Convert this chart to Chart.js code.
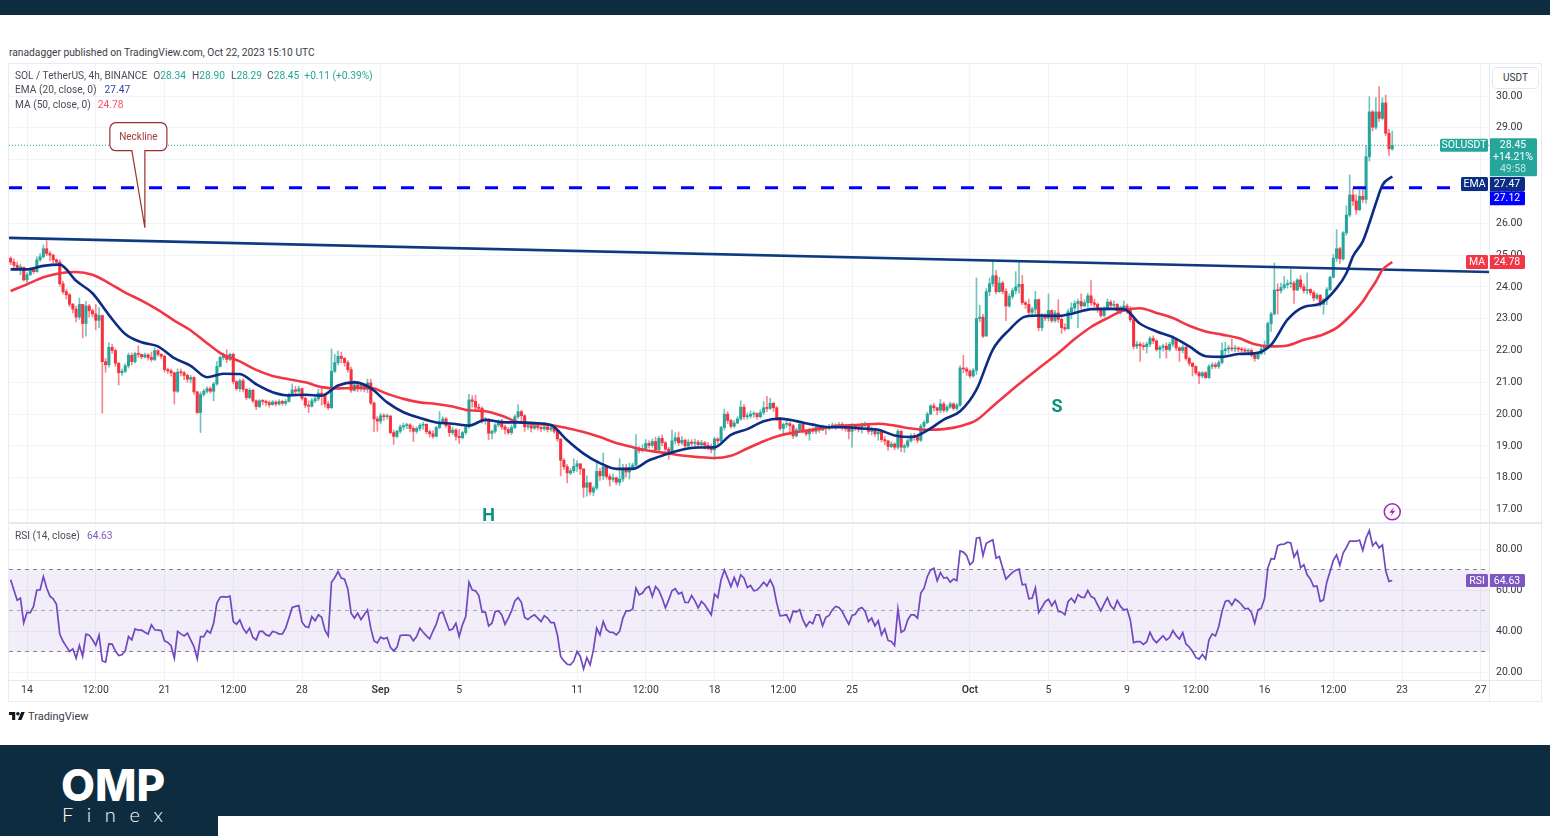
<!DOCTYPE html>
<html>
<head>
<meta charset="utf-8">
<title>SOL / TetherUS</title>
<script src="https://cdn.jsdelivr.net/npm/chart.js@4/dist/chart.umd.js"></script>
<style>
  html, body { margin: 0; padding: 0; background: #fff; }
  body { position: relative; width: 1550px; height: 836px; overflow: hidden; font-family: Roboto, sans-serif; }
  .abs { position: absolute; white-space: nowrap; }
  canvas { position: absolute; left: 9px; }
  .lg { font-size: 10.2px; line-height: 14px; color: #4a4d57; }
  .up { color: #26a69a; }
  .gap { margin-left: 1px; }
</style>
</head>
<body>
<div class="abs" style="left:0;top:0;width:1550px;height:15px;background:#0e2c40"></div>
<div class="abs" style="left:9px;top:46px;font-size:10.25px;line-height:13px;color:#3a3d46">ranadagger published on TradingView.com, Oct 22, 2023 15:10 UTC</div>

<div class="abs" style="left:8px;top:63px;width:1532px;height:637px;border:1px solid #e9ebf1"></div>
<canvas id="price" width="1532" height="458" style="top:64px"></canvas>
<canvas id="rsi" width="1532" height="176" style="top:524px"></canvas>
<div class="abs" style="left:9px;top:522px;width:1532px;height:2px;background:#e6e8ef"></div>
<div class="abs" style="left:9px;top:680px;width:1532px;height:1px;background:#e6e8ef"></div>
<div class="abs" style="left:1489px;top:64px;width:1px;height:636px;background:#e6e8ef"></div>

<div class="abs lg" style="left:15px;top:69px">SOL / TetherUS, 4h, BINANCE &nbsp;<span class="gap">O</span><span class="up">28.34</span> &nbsp;<span class="gap">H</span><span class="up">28.90</span> &nbsp;<span class="gap">L</span><span class="up">28.29</span> &nbsp;C<span class="up">28.45</span> &nbsp;<span class="up">+0.11 (+0.39%)</span></div>
<div class="abs lg" style="left:15px;top:83px">EMA (20, close, 0) &nbsp;<span class="up gap" style="color:#2a3fae;margin-left:3px">27.47</span></div>
<div class="abs lg" style="left:15px;top:98px">MA (50, close, 0) &nbsp;<span style="color:#f7525f;margin-left:2px">24.78</span></div>
<div class="abs lg" style="left:15px;top:529px">RSI (14, close) &nbsp;<span style="color:#7e57c2;margin-left:2px">64.63</span></div>
<div class="abs" style="left:1492px;top:67px;width:45px;height:20px;border:1px solid #e6e8ef;border-radius:4px;font-size:10px;line-height:20px;text-align:center;color:#33363f;background:#fff">USDT</div>

<svg class="abs" style="left:9px;top:711px" width="16" height="10" viewBox="0 0 36 22"><path fill="#131722" d="M14 20H7V9H0V2h14v18zM28 20h-8l7.5-18h8L28 20z"/><circle cx="20" cy="6" r="4" fill="#131722"/></svg>
<div class="abs" style="left:28px;top:710px;font-size:11px;line-height:14px;color:#3a3d46">TradingView</div>

<div class="abs" style="left:0;top:745px;width:1550px;height:91px;background:#0e2c40"></div>
<div class="abs" style="left:218px;top:816px;width:1332px;height:20px;background:#fff"></div>
<div class="abs" style="left:61px;top:760px;font-family:Inter,sans-serif;font-weight:800;font-size:44px;line-height:50px;color:#fff">OMP</div>
<div class="abs" style="left:62px;top:802px;font-family:Lato,sans-serif;font-weight:300;font-size:20px;line-height:24px;letter-spacing:13.6px;color:#fff">Finex</div>

<script>
// 4h candles, index 0 = Aug 14 00:00
const firstCandle = -5
const firstOpen = 24.90
const closes = [
  24.78,24.68,24.60,24.62,24.22,24.38,24.55,24.48,24.85,24.95,
  25.20,25.05,25.00,24.85,24.78,24.10,23.85,23.75,23.45,23.30,
  23.05,23.45,22.85,23.40,23.25,23.15,22.95,23.10,21.65,21.55,
  22.10,22.00,21.60,21.30,21.35,21.52,21.85,21.65,21.90,21.88,
  21.80,21.86,21.78,21.72,22.00,21.88,21.82,21.40,21.36,21.30,
  20.72,21.32,21.30,21.22,21.10,21.15,20.70,20.05,20.62,20.72,
  20.80,20.72,20.95,21.50,21.78,21.85,21.72,21.88,21.02,20.80,
  21.05,20.78,20.52,20.75,20.42,20.24,20.42,20.40,20.36,20.30,
  20.38,20.32,20.40,20.34,20.40,20.60,20.76,20.72,20.80,20.50,
  20.28,20.25,20.42,20.48,20.66,20.58,20.32,20.20,21.35,21.62,
  21.82,21.75,21.62,21.40,20.75,20.92,20.82,20.90,20.78,20.98,
  20.35,19.85,19.78,19.95,19.92,19.94,19.42,19.30,19.46,19.60,
  19.64,19.66,19.55,19.46,19.55,19.65,19.68,19.45,19.38,19.30,
  19.58,19.75,19.85,19.64,19.42,19.50,19.30,19.26,19.42,19.60,
  20.45,20.40,20.22,20.18,19.80,19.84,19.40,19.46,19.66,19.78,
  19.60,19.52,19.42,19.58,19.92,20.08,19.95,19.60,19.64,19.56,
  19.64,19.58,19.54,19.60,19.52,19.57,19.46,19.22,18.55,18.35,
  18.15,18.22,18.36,18.44,18.28,17.70,17.84,17.55,17.68,18.20,
  18.06,18.34,18.04,17.95,18.00,17.86,17.96,18.30,18.18,18.32,
  18.40,18.90,18.85,18.92,19.08,19.02,19.14,18.88,19.24,19.10,
  18.90,18.80,19.16,19.26,19.10,19.18,19.00,19.12,19.08,19.12,
  19.04,19.10,19.02,18.96,18.88,19.22,19.16,19.58,20.00,19.80,
  19.62,19.72,19.85,20.22,19.92,19.94,20.00,20.02,19.92,20.05,
  20.20,20.18,20.34,20.20,19.88,19.55,19.68,19.70,19.64,19.32,
  19.50,19.68,19.48,19.38,19.52,19.46,19.58,19.50,19.58,19.56,
  19.60,19.66,19.62,19.68,19.62,19.54,19.46,19.62,19.60,19.52,
  19.65,19.68,19.46,19.55,19.38,19.44,19.20,19.16,18.98,19.06,
  18.96,19.46,18.96,19.00,19.16,19.32,19.28,19.18,19.62,19.74,
  20.00,20.26,20.20,20.12,20.32,20.12,20.22,20.32,20.18,20.28,
  21.45,21.42,21.35,21.20,21.38,23.00,23.05,22.45,23.85,24.10,
  24.35,23.85,24.12,23.86,23.40,23.70,23.88,24.00,24.08,23.50,
  23.45,23.20,23.30,23.60,22.72,23.10,23.02,23.26,22.94,23.18,
  22.98,22.72,22.68,23.22,23.34,23.48,23.54,23.40,23.50,23.72,
  23.50,23.45,23.30,23.10,23.30,23.52,23.42,23.45,23.25,23.35,
  23.40,23.30,22.97,22.13,22.20,22.15,22.12,22.20,22.38,22.30,
  22.03,22.10,22.14,22.03,22.20,22.38,22.08,22.00,22.10,21.75,
  21.60,21.50,21.30,21.20,21.30,21.15,21.50,21.55,21.50,21.62,
  22.00,22.05,22.08,22.05,22.08,22.04,22.02,21.98,22.00,21.85,
  21.75,21.90,22.05,22.17,22.85,23.15,23.90,23.88,23.98,24.07,
  24.10,24.12,23.90,24.22,24.00,23.88,23.92,23.82,23.65,23.74,
  23.45,23.60,23.92,24.30,24.90,25.20,24.88,25.70,26.26,26.89,
  26.70,26.42,26.85,26.75,28.09,29.50,29.02,29.50,29.30,29.78,
  28.83,28.34,28.45
]
const highs = [
  24.95,24.88,24.78,24.72,24.62,24.45,24.60,24.60,24.95,25.05,
  25.32,25.45,25.12,25.02,24.88,24.85,24.18,23.92,23.80,23.48,
  23.40,23.65,23.42,23.55,23.45,23.30,23.45,23.35,23.12,21.75,
  22.25,22.20,22.05,21.62,21.42,21.58,21.92,21.92,21.95,22.15,
  21.88,21.92,21.90,21.95,22.08,22.02,21.90,21.85,21.45,21.42,
  21.32,21.42,21.42,21.35,21.25,21.22,21.18,20.72,20.70,20.78,
  20.86,20.86,21.00,21.65,21.82,21.92,22.02,21.92,21.92,21.05,
  21.10,21.12,20.80,20.82,20.78,20.45,20.46,20.46,20.44,20.42,
  20.44,20.42,20.46,20.44,20.46,20.66,20.95,20.88,20.88,20.82,
  20.55,20.42,20.50,20.58,20.78,20.82,20.62,20.40,22.05,21.88,
  21.98,21.95,21.78,21.68,21.48,21.05,20.98,21.00,20.95,21.10,
  21.10,20.38,19.92,20.02,20.02,20.00,19.96,19.50,19.50,19.66,
  19.72,19.72,19.70,19.62,19.60,19.70,19.74,19.70,19.50,19.48,
  19.62,20.08,19.92,19.90,19.68,19.60,19.55,19.52,19.46,19.66,
  20.62,20.58,20.60,20.32,20.24,19.90,19.86,19.50,19.70,19.82,
  19.84,19.66,19.58,19.66,19.98,20.30,20.12,19.98,19.72,19.66,
  19.68,19.68,19.62,19.66,19.64,19.64,19.60,19.50,19.22,18.60,
  18.42,18.30,18.60,18.54,18.44,18.28,18.06,17.86,17.74,18.52,
  18.30,18.78,18.38,18.12,18.12,18.02,18.60,18.42,18.42,18.46,
  18.46,19.36,18.98,19.04,19.20,19.16,19.22,19.28,19.30,19.34,
  19.14,18.96,19.50,19.42,19.44,19.30,19.22,19.20,19.20,19.22,
  19.18,19.18,19.14,19.12,19.06,19.28,19.26,19.62,20.16,20.08,
  19.84,19.80,19.92,20.42,20.30,20.04,20.10,20.08,20.04,20.14,
  20.40,20.56,20.50,20.38,20.24,19.90,19.72,19.78,19.74,19.68,
  19.56,19.74,19.70,19.52,19.56,19.58,19.64,19.62,19.66,19.62,
  19.68,19.72,19.70,19.74,19.74,19.66,19.60,19.70,19.68,19.68,
  19.72,19.76,19.70,19.60,19.56,19.50,19.46,19.30,19.18,19.14,
  19.10,19.52,19.50,19.06,19.22,19.38,19.40,19.34,19.68,19.80,
  20.06,20.30,20.34,20.22,20.46,20.38,20.28,20.38,20.36,20.34,
  21.52,21.85,21.48,21.40,21.44,24.28,23.42,23.14,23.95,24.28,
  24.80,24.52,24.30,24.18,23.95,23.78,23.96,24.48,24.80,24.36,
  23.55,23.62,23.36,23.86,23.62,23.16,23.16,23.78,23.28,23.26,
  23.60,23.04,22.84,23.30,23.50,23.56,23.62,23.78,23.60,23.80,
  24.20,23.62,23.50,23.35,23.38,23.62,23.58,23.56,23.48,23.40,
  23.56,23.46,23.38,23.02,22.28,22.26,22.24,22.26,22.44,22.46,
  22.34,22.16,22.20,22.24,22.26,22.46,22.40,22.12,22.18,22.14,
  21.80,21.62,21.52,21.34,21.34,21.34,21.56,21.62,21.62,21.68,
  22.24,22.26,22.16,22.36,22.16,22.12,22.10,22.08,22.06,22.06,
  21.92,21.94,22.10,22.30,22.90,23.20,24.75,24.10,24.12,24.33,
  24.22,24.55,24.18,24.26,24.36,24.10,24.44,23.94,23.88,23.80,
  23.76,23.64,23.98,24.34,25.02,25.80,25.24,25.74,26.55,27.52,
  27.10,26.90,27.05,27.10,28.45,29.98,29.55,29.95,30.30,29.95,
  30.03,28.95,28.90
]
const lows = [
  24.70,24.60,24.52,24.38,24.18,24.08,24.36,24.42,24.46,24.80,
  24.90,24.98,24.82,24.75,24.68,24.02,23.78,23.62,23.38,23.18,
  22.90,22.98,22.40,22.45,23.05,23.05,22.65,22.72,20.03,21.32,
  21.48,21.92,21.50,20.92,21.22,21.30,21.45,21.55,21.60,21.78,
  21.74,21.76,21.70,21.65,21.68,21.82,21.74,21.32,21.28,21.20,
  20.32,20.68,21.20,21.08,21.00,20.98,20.62,20.02,19.42,20.56,
  20.66,20.66,20.42,20.90,21.48,21.70,21.62,21.68,20.95,20.75,
  20.72,20.70,20.45,20.48,20.36,20.14,20.20,20.30,20.26,20.22,
  20.28,20.26,20.28,20.28,20.28,20.38,20.58,20.64,20.66,20.44,
  20.20,20.05,20.22,20.36,20.42,20.28,20.22,20.14,20.18,21.30,
  21.55,21.60,21.50,21.32,20.68,20.72,20.70,20.72,20.70,20.68,
  20.30,19.45,19.46,19.70,19.80,19.84,19.38,19.05,19.25,19.40,
  19.50,19.54,19.44,19.14,19.40,19.48,19.52,19.38,19.28,19.24,
  19.28,19.54,19.70,19.58,19.30,19.36,19.18,19.08,19.22,19.36,
  19.55,20.22,20.12,20.10,19.72,19.68,19.20,19.22,19.40,19.60,
  19.52,19.38,19.36,19.36,19.54,19.86,19.78,19.46,19.52,19.44,
  19.52,19.50,19.46,19.48,19.44,19.46,19.40,19.14,18.06,18.26,
  17.84,18.10,18.16,18.20,18.10,17.38,17.42,17.46,17.44,17.62,
  17.92,17.94,17.96,17.74,17.88,17.78,17.76,17.88,18.02,17.96,
  18.26,18.36,18.78,18.80,18.90,18.94,18.96,18.82,18.84,19.00,
  18.82,18.58,18.74,19.06,19.02,19.04,18.90,18.96,19.00,18.96,
  18.96,18.96,18.90,18.88,18.78,18.58,19.06,19.12,19.50,19.70,
  19.56,19.58,19.70,19.80,19.84,19.84,19.88,19.90,19.84,19.88,
  19.98,20.08,20.14,20.08,19.80,19.50,19.36,19.58,19.44,19.24,
  19.28,19.46,19.40,19.32,19.18,19.40,19.38,19.42,19.48,19.36,
  19.50,19.56,19.52,19.58,19.50,19.46,19.22,18.96,19.48,19.44,
  19.40,19.58,19.38,19.34,19.30,19.18,19.12,19.04,18.86,18.94,
  18.88,18.90,18.82,18.80,18.94,19.12,19.18,19.10,19.14,19.52,
  19.70,19.98,20.10,19.98,20.04,20.06,20.06,20.18,20.12,20.12,
  20.24,21.30,21.22,21.14,21.16,21.25,22.90,22.40,22.62,23.72,
  24.02,23.78,23.82,23.78,22.94,23.36,23.62,23.78,23.80,23.44,
  23.32,23.12,23.06,23.12,22.62,22.62,22.94,22.92,22.88,22.88,
  22.88,22.54,22.62,22.68,23.00,23.20,22.72,23.30,23.38,23.36,
  23.42,23.36,23.20,23.04,23.06,23.26,23.34,23.30,23.18,23.14,
  23.22,23.16,22.90,22.05,22.06,21.66,22.02,21.92,22.12,22.22,
  21.98,21.76,21.98,21.76,21.98,22.12,22.00,21.66,21.92,21.70,
  21.52,21.20,21.24,20.96,21.14,21.12,21.12,21.42,21.44,21.44,
  21.58,21.80,21.92,21.98,21.96,21.96,21.94,21.90,21.86,21.80,
  21.66,21.72,21.86,21.88,22.12,22.60,23.12,23.14,23.80,23.92,
  23.96,23.98,23.48,23.88,23.94,23.80,23.78,23.74,23.56,23.60,
  23.38,23.14,23.44,23.88,24.28,24.80,24.74,24.84,25.62,26.20,
  26.56,26.28,26.40,26.65,26.62,27.95,28.90,28.95,29.20,29.25,
  28.75,28.13,28.29
]

const emaIdx = [-5,0,5,10,15,20,25,30,35,40,45,50,55,60,65,70,75,80,85,90,95,100,105,110,115,120,125,130,135,140,145,150,155,160,165,170,175,180,185,190,195,200,205,210,215,220,225,230,235,240,245,250,255,260,265,270,275,280,285,290,295,300,305,310,315,320,325,330,335,340,345,350,355,360,365,370,375,380,385,390,395,400,403,405,408,410,412,414,417]
const emaVals = [24.55,24.55,24.66,24.70,24.19,23.80,23.12,22.52,22.26,22.13,21.76,21.52,21.16,21.27,21.26,20.94,20.69,20.59,20.61,20.58,20.90,21.00,20.82,20.37,20.06,19.88,19.74,19.70,19.64,19.82,19.75,19.74,19.72,19.66,19.18,18.76,18.46,18.28,18.28,18.55,18.73,18.88,18.95,18.96,19.35,19.53,19.78,19.86,19.78,19.67,19.59,19.59,19.55,19.51,19.33,19.28,19.49,19.83,20.09,20.77,22.03,22.65,23.07,23.10,23.09,23.18,23.30,23.31,23.30,22.84,22.60,22.42,22.13,21.82,21.80,21.89,21.91,22.18,22.97,23.37,23.47,23.96,24.43,24.96,25.43,26.00,26.63,27.20,27.47]
const maIdx = [-5,0,5,10,15,20,25,30,35,40,45,50,55,60,65,70,75,80,85,90,95,100,105,110,115,120,125,130,135,140,145,150,155,160,165,170,175,180,185,190,195,200,205,210,215,220,225,230,235,240,245,250,255,260,265,270,275,280,285,290,295,300,305,310,315,320,325,330,335,340,345,350,355,360,365,370,375,380,385,390,395,400,405,408,410,412,414,417]
const maVals = [23.87,24.08,24.30,24.43,24.47,24.38,24.12,23.82,23.57,23.28,22.94,22.63,22.23,21.86,21.66,21.39,21.20,21.10,21.00,20.85,20.81,20.82,20.82,20.64,20.48,20.37,20.32,20.24,20.12,20.09,19.95,19.75,19.70,19.66,19.56,19.44,19.28,19.09,18.96,18.85,18.78,18.70,18.65,18.62,18.69,18.92,19.15,19.33,19.43,19.51,19.59,19.64,19.67,19.70,19.64,19.55,19.51,19.53,19.62,19.81,20.25,20.69,21.11,21.52,21.92,22.36,22.74,23.02,23.26,23.33,23.18,23.02,22.78,22.60,22.50,22.39,22.20,22.13,22.16,22.34,22.47,22.71,23.18,23.54,23.86,24.17,24.54,24.78]

const rsiVals = [
  65,60,55,56,44,49,49,52,60,60,
  66.6,61,57,55.7,53,38.5,35,32.5,30,31.3,
  26.7,33,27.6,38.5,38,35.7,33,38,25.4,24.8,
  33.7,33.6,30.3,28,28.4,30.3,37.3,35.7,41,40.4,
  40.4,39.4,38.5,43,40.6,40.4,40.2,35.2,34.4,32.8,
  26.7,39.8,38.6,37.6,39,35.7,32.4,26.4,37.3,37.3,
  40.2,39,43.8,53.6,56.5,56.8,56.5,57,44.6,43.3,
  45.4,41.4,39,41.4,36.8,35.7,39.8,39.8,38.1,37.6,
  39.8,39.4,38.5,38.6,41.4,46.3,51.5,52,52.4,44.3,
  42.2,41.7,47,45,47.9,46.7,40.4,37.6,63.8,66,
  69,65.8,65.3,60.4,48.7,46.3,48.7,45.6,47.9,50.3,
  41.4,35.2,34.2,37,36.2,36.8,32,30.3,32,37.8,
  38,38,37.8,35.2,37.3,41.4,39.4,37.6,36.2,40,
  43.3,48.7,49.2,44.6,40.4,41,43.8,37.3,43,47,
  63.8,60,59.6,57.3,49.2,49.2,42.5,43.8,49.5,49.8,
  48,43.3,46.3,49.8,54.7,56.3,54,46.6,45.6,47,
  47.9,46.3,44.6,47.4,46.3,44.1,44.1,38.1,27.6,25.4,
  23.8,23.5,25.4,30,27.6,21.5,27,23.5,30.8,41.4,
  38.1,44.6,40.6,39.4,39.3,38.1,39.8,46.3,49.8,49.8,
  50.8,60.9,57.6,58.5,60.9,61.7,56.8,61.7,59.8,56,
  51.3,55.2,59.6,60.6,58.1,58.8,53.9,53.9,57.3,54.7,
  51.3,54.4,52.8,50.4,47.9,58,56.3,65,69.8,65.8,
  61.7,66.1,62,67.4,65.8,61.2,62.2,59.6,60,61.7,
  63.8,62,65,61.7,53.6,47.4,47.6,47.9,44.6,49.7,
  49.2,50.4,45.4,42.2,44.6,43.6,47.9,47.9,42.5,46.7,
  47.6,50.4,52,51.5,49.5,46.3,43.3,47.6,48.2,50.8,
  51.5,49.5,44.6,46.3,42.5,45,38.1,41,35.4,34.9,
  32.9,50.8,39.4,40.4,45.4,47.9,47.9,46.3,58.5,60.9,
  66.6,69.8,70.6,64.5,68.5,65.8,66.1,63.8,65.4,64.6,
  79.1,78.5,76.8,72.3,73.9,85.3,85.6,76.8,82.8,83.7,
  84.5,75.5,76.3,70.7,65.3,67,68.6,69.6,70.2,62.5,
  62.8,55.7,56,61,49,51.6,54.4,55.5,52.3,54.7,
  49.5,49.3,47.9,54.4,56,53.9,57.8,56.5,56.3,59.8,
  56.8,56,52.8,49.8,53.2,56.2,52.3,50.6,54.9,52,
  50.3,50.6,45.4,34.3,34.8,34.8,33.5,34.8,39.4,36,
  34.3,36,37.7,35.6,36.8,40.2,37.7,36.1,39.2,33.7,
  32.2,30,27.1,26.3,28.6,26.3,35.6,38.6,37.6,42.2,
  49.5,54.4,54.9,52.6,55.5,54.4,52.8,50.8,51,49,
  43.8,50.3,51.1,56,70.7,75.3,75.1,81.6,82.3,82.4,
  83.3,83,76,78.9,70.9,72.3,67.4,65.3,61.7,62,
  54.4,55.2,63.8,69,74.5,77.2,72,78,80.8,83.8,
  83.8,83.8,84.4,79.3,85.4,89,81.6,83.3,80.5,82,
  69.4,64.2,64.63
]

const neckIdx = [-5.5, 446.55]
const neckVals = [25.54, 24.47]
const supportLevel = 27.12
const lastPrice = 28.45
const lastEma = 27.47
const lastMa = 24.78
const lastRsi = 64.63

const timeTicks = [0,21,42,63,84,108,132,168,189,210,231,252,288,312,336,357,378,399,420,444]
const timeLabels = ['14','12:00','21','12:00','28','Sep','5','11','12:00','18','12:00','25','Oct','5','9','12:00','16','12:00','23','27']
const priceTicks = [17,18,19,20,21,22,23,24,25,26,27,28,29,30]
const rsiTicks = [20,40,60,80]

const UP = '#26a69a'
const DOWN = '#f7323f'
const GRID = '#f1f3f8'
const FONT = 'Roboto, sans-serif'

const xMin = neckIdx[0]
const xMax = neckIdx[1]
const flat = (val) => [{ x: xMin, y: val }, { x: xMax, y: val }]
const pairs = (xs, ys) => xs.map((x, i) => ({ x, y: ys[i] }))

const opens = closes.map((c, i) => (i ? closes[i - 1] : firstOpen))
const candleX = closes.map((c, i) => i + firstCandle)
const isUp = closes.map((c, i) => c >= opens[i])

function xScale(showLabels) {
  return {
    type: 'linear',
    min: xMin,
    max: xMax,
    offset: false,
    afterBuildTicks: (axis) => { axis.ticks = timeTicks.map((value) => ({ value })) },
    afterFit: (axis) => {
      axis.height = showLabels ? 20 : 0
      axis.paddingLeft = 0
      axis.paddingRight = 0
    },
    grid: { color: GRID, drawTicks: false, offset: false },
    border: { display: false },
    ticks: {
      display: showLabels,
      autoSkip: false,
      maxRotation: 0,
      padding: 4,
      color: '#33363f',
      callback: (v, i) => timeLabels[i],
      font: (ctx) => ({
        family: FONT,
        size: 10.5,
        weight: ['Sep', 'Oct'].includes(timeLabels[ctx.index]) ? '600' : '400'
      })
    }
  }
}

function yScale(min, max, ticks) {
  return {
    position: 'right',
    min,
    max,
    afterBuildTicks: (axis) => { axis.ticks = ticks.map((value) => ({ value })) },
    // chart.js reserves room for the end labels, we want the pane edge to edge
    afterFit: (axis) => {
      axis.width = 52
      axis.paddingTop = 0
      axis.paddingBottom = 0
    },
    grid: { color: GRID, drawTicks: false },
    border: { display: false },
    ticks: {
      padding: 7,
      crossAlign: 'near',
      color: '#33363f',
      font: { family: FONT, size: 10.5 },
      callback: (v) => v.toFixed(2)
    }
  }
}

function tag(ctx, x, y, w, h, color, lines) {
  ctx.fillStyle = color
  ctx.beginPath()
  ctx.roundRect(x, y, w, h, 1.5)
  ctx.fill()
  ctx.fillStyle = '#fff'
  ctx.font = '10.5px ' + FONT
  ctx.textAlign = 'center'
  ctx.textBaseline = 'middle'
  const step = lines.length > 1 ? 12 : h
  const first = lines.length > 1 ? 7 : h / 2 + 0.5
  lines.forEach((line, i) => {
    ctx.globalAlpha = line.alpha || 1
    ctx.fillText(line.text, x + w / 2, y + first + step * i)
  })
  ctx.globalAlpha = 1
}

// callout, pattern letters and axis tags
const priceNotes = {
  id: 'priceNotes',
  afterDraw(chart) {
    const { ctx, scales } = chart
    const px = (v) => scales.x.getPixelForValue(v)
    const py = (v) => scales.y.getPixelForValue(v)
    const right = chart.chartArea.right
    ctx.save()

    // Neckline callout
    const tipX = px(36)
    const tipY = py(25.86)
    const left = tipX - 35
    const top = tipY - 105
    ctx.beginPath()
    ctx.moveTo(left + 6, top)
    ctx.lineTo(left + 51, top)
    ctx.arcTo(left + 57, top, left + 57, top + 6, 6)
    ctx.lineTo(left + 57, top + 22)
    ctx.arcTo(left + 57, top + 28, left + 51, top + 28, 6)
    ctx.lineTo(tipX, top + 28)
    ctx.lineTo(tipX, tipY)
    ctx.lineTo(tipX - 13, top + 28)
    ctx.lineTo(left + 6, top + 28)
    ctx.arcTo(left, top + 28, left, top + 22, 6)
    ctx.lineTo(left, top + 6)
    ctx.arcTo(left, top, left + 6, top, 6)
    ctx.closePath()
    ctx.fillStyle = '#fff'
    ctx.fill()
    ctx.strokeStyle = '#9c2f2f'
    ctx.lineWidth = 1.2
    ctx.stroke()
    ctx.fillStyle = '#a23a3a'
    ctx.font = '10px ' + FONT
    ctx.textAlign = 'center'
    ctx.textBaseline = 'middle'
    ctx.fillText('Neckline', left + 28.5, top + 14.5)

    // head and shoulder letters
    ctx.fillStyle = '#0b8f80'
    ctx.font = 'bold 18px ' + FONT
    ctx.fillText('H', px(141), py(16.78))
    ctx.fillText('S', px(314.6), py(20.21))

    // lightning marker
    const mx = px(417)
    const my = py(16.93)
    ctx.strokeStyle = '#9c27b0'
    ctx.lineWidth = 1.5
    ctx.beginPath()
    ctx.arc(mx, my, 8, 0, Math.PI * 2)
    ctx.stroke()
    ctx.fillStyle = '#9c27b0'
    ctx.beginPath()
    ctx.moveTo(mx + 2, my - 5)
    ctx.lineTo(mx - 3, my + 1)
    ctx.lineTo(mx, my + 1)
    ctx.lineTo(mx - 2, my + 5)
    ctx.lineTo(mx + 3, my - 1)
    ctx.lineTo(mx, my - 1)
    ctx.closePath()
    ctx.fill()

    // axis tags
    const lastY = py(lastPrice)
    tag(ctx, right - 49, lastY - 6.5, 48, 13, UP, [{ text: 'SOLUSDT' }])
    tag(ctx, right, lastY - 7, 48, 38, UP, [
      { text: lastPrice.toFixed(2) }, { text: '+14.21%' }, { text: '49:58', alpha: 0.7 }
    ])
    const emaY = py(lastEma) + 7.5
    tag(ctx, right - 28, emaY - 7, 27, 14, '#0c2d83', [{ text: 'EMA' }])
    tag(ctx, right, emaY - 7, 36, 14, '#0c2d83', [{ text: lastEma.toFixed(2) }])
    tag(ctx, right, py(supportLevel) + 3.5, 36, 14, '#0000ff', [{ text: supportLevel.toFixed(2) }])
    const maY = py(lastMa)
    tag(ctx, right - 23, maY - 7, 22, 14, '#f23645', [{ text: 'MA' }])
    tag(ctx, right, maY - 7, 36, 14, '#f23645', [{ text: lastMa.toFixed(2) }])
    ctx.restore()
  }
}

const rsiNotes = {
  id: 'rsiNotes',
  afterDraw(chart) {
    const { ctx, scales } = chart
    const right = chart.chartArea.right
    const y = scales.y.getPixelForValue(lastRsi)
    ctx.save()
    tag(ctx, right - 23, y - 6.5, 22, 13, '#7e57c2', [{ text: 'RSI' }])
    tag(ctx, right, y - 6.5, 36, 13, '#7e57c2', [{ text: lastRsi.toFixed(2) }])
    ctx.restore()
  }
}

new Chart(document.getElementById('price'), {
  type: 'bar',
  data: {
    datasets: [
      {
        label: 'Wicks',
        data: candleX.map((x, i) => ({ x, y: [lows[i], highs[i]] })),
        backgroundColor: isUp.map((u) => (u ? 'rgba(38,166,154,.65)' : 'rgba(247,50,63,.6)')),
        barThickness: 1,
        grouped: false,
        order: 7
      },
      {
        label: 'Bodies',
        data: candleX.map((x, i) => ({ x, y: [opens[i], closes[i]] })),
        backgroundColor: isUp.map((u) => (u ? UP : DOWN)),
        barThickness: 2.4,
        minBarLength: 1,
        grouped: false,
        order: 6
      },
      {
        type: 'line', label: 'Last price', data: flat(lastPrice),
        borderColor: UP, borderWidth: 1, borderDash: [1, 2], pointRadius: 0, order: 5
      },
      {
        type: 'line', label: 'Support', data: flat(supportLevel),
        borderColor: '#0000ff', borderWidth: 3, borderDash: [13, 15], pointRadius: 0, order: 4
      },
      {
        type: 'line', label: 'Neckline', data: pairs(neckIdx, neckVals),
        borderColor: '#0f3a80', borderWidth: 2.6, pointRadius: 0, order: 3
      },
      {
        type: 'line', label: 'MA 50', data: pairs(maIdx, maVals),
        borderColor: '#f23645', borderWidth: 2.6, pointRadius: 0, cubicInterpolationMode: 'monotone', order: 2
      },
      {
        type: 'line', label: 'EMA 20', data: pairs(emaIdx, emaVals),
        borderColor: '#0c2d83', borderWidth: 2.6, pointRadius: 0, cubicInterpolationMode: 'monotone', order: 1
      }
    ]
  },
  options: {
    responsive: false,
    animation: false,
    events: [],
    layout: { padding: 0 },
    plugins: { legend: { display: false }, tooltip: { enabled: false } },
    scales: { x: xScale(false), y: yScale(16.61, 31.006, priceTicks) }
  },
  plugins: [priceNotes]
})

new Chart(document.getElementById('rsi'), {
  type: 'line',
  data: {
    datasets: [
      {
        label: 'Upper band', data: flat(70),
        borderColor: '#85878f', borderWidth: 1, borderDash: [4, 4], pointRadius: 0,
        fill: { target: { value: 30 }, above: 'rgba(126,87,194,.1)' }, order: 4
      },
      {
        label: 'Middle band', data: flat(50),
        borderColor: '#a6a8ae', borderWidth: 1, borderDash: [4, 4], pointRadius: 0, order: 3
      },
      {
        label: 'Lower band', data: flat(30),
        borderColor: '#85878f', borderWidth: 1, borderDash: [4, 4], pointRadius: 0, order: 2
      },
      {
        label: 'RSI', data: pairs(candleX, rsiVals),
        borderColor: '#7148c0', borderWidth: 1.7, pointRadius: 0, order: 1
      }
    ]
  },
  options: {
    responsive: false,
    animation: false,
    events: [],
    layout: { padding: 0 },
    plugins: { legend: { display: false }, tooltip: { enabled: false } },
    scales: { x: xScale(true), y: yScale(16.1, 92.2, rsiTicks) }
  },
  plugins: [rsiNotes]
})
</script>
</body>
</html>
